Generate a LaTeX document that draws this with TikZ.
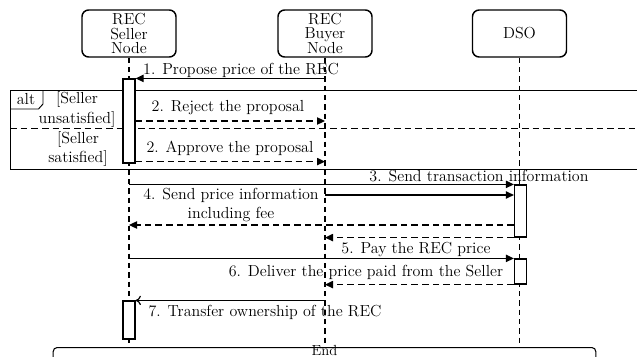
\documentclass[tikz,border=0pt]{standalone}
\usetikzlibrary{arrows.meta,positioning}
\tikzset{
  actor/.style={draw, line width=1.1pt, rounded corners=5pt, minimum width=70.5pt,
    minimum height=35.25pt, align=center, inner sep=1pt, font=\fontsize{12}{10.6}\selectfont},
  life/.style={dash pattern=on 4pt off 3pt, line width=0.8pt},
  act/.style={draw, fill=white, line width=0.9pt, minimum width=9pt, inner sep=0pt},
  msg/.style={line width=0.9pt, -{Triangle[length=6pt,width=5.5pt]}},
  reply/.style={msg, dash pattern=on 5pt off 3pt},
  lbl/.style={font=\fontsize{12}{14.5}\selectfont, inner sep=0pt, align=center},
  frame/.style={line width=0.7pt}
}
\begin{document}
\begin{tikzpicture}[x=0.75pt,y=-0.75pt]
   \useasboundingbox (0,0) rectangle (637,357);
   \clip (0,0) rectangle (637,357);
   % lifelines
   \node[actor] (seller) at (129,33.5) {REC\\Seller\\Node};
   \node[actor] (buyer) at (325,33.5) {REC\\Buyer\\Node};
   \node[actor] (dso) at (519.5,33.5) {DSO};
   \node[draw, line width=0.8pt, rounded corners=3pt, minimum width=407pt,
     minimum height=30pt, anchor=north] (endbox) at (324.5,347) {};
   \node[lbl, anchor=base, font=\fontsize{11}{13}\selectfont] (endlbl) at (324.5,355) {End};
   \foreach \p in {seller,buyer,dso}
      \draw[life] (\p.south) -- (\p.south |- endbox.north);
   % alt frame
   \draw[frame] (10,169) -- (10,90) -- (640,90);
   \draw[frame] (10,169) -- (640,169);
   \draw[frame, dash pattern=on 5pt off 3pt] (10,128.5) -- (640,128.5);
   \draw[frame] (43,90) -- (43,104) -- (38.5,109) -- (10,109);
   \node[lbl] (alt) at (26,99.5) {alt};
   \node[lbl] (g1) at (77,109.5) {[Seller\\unsatisfied]};
   \node[lbl] (g2) at (78,149) {[Seller\\satisfied]};
   % activations
   \node[act, minimum height=63pt] (act1) at (129,121) {};
   \node[act, minimum height=39pt] (act2) at (520.5,211) {};
   \node[act, minimum height=18.75pt] (act3) at (520.5,271.5) {};
   \node[act, minimum height=28.5pt] (act4) at (129,320) {};
   % messages
   \draw[msg] (buyer |- act1.north) -- (act1.north east);
   \node[lbl] (m1) at (241,70) {1. Propose price of the REC};
   \draw[reply] (act1.east) -- (buyer |- act1.east);
   \node[lbl] (m2a) at (228,108) {2. Reject the proposal};
   \draw[reply] ([yshift=1.5pt]act1.south east) -- ([yshift=1.5pt]buyer |- act1.south);
   \node[lbl] (m2b) at (230,148) {2. Approve the proposal};
   \draw[msg] (seller |- act2.north) -- (act2.north west);
   \node[lbl] (m3) at (479,176) {3. Send transaction information};
   \draw[msg] (buyer |- 0,195) -- (act2.west |- 0,195);
   \draw[reply] (act2.west |- 0,225) -- (seller |- 0,225);
   \node[lbl] (m4) at (231,205) {4. Send price information\\including fee};
   \draw[reply] (act2.south west) -- (buyer |- act2.south);
   \draw[msg] (seller |- act3.north) -- (act3.north west);
   \node[lbl] (m5) at (416,249) {5. Pay the REC price};
   \draw[reply] (act3.south west) -- (buyer |- act3.south);
   \node[lbl] (m6) at (366,272) {6. Deliver the price paid from the Seller};
   \draw[line width=0.9pt, -{To[length=4pt,width=7pt]}] (buyer |- act4.north) -- (act4.north east);
   \node[lbl] (m7) at (265,312) {7. Transfer ownership of the REC};
\end{tikzpicture}
\end{document}
